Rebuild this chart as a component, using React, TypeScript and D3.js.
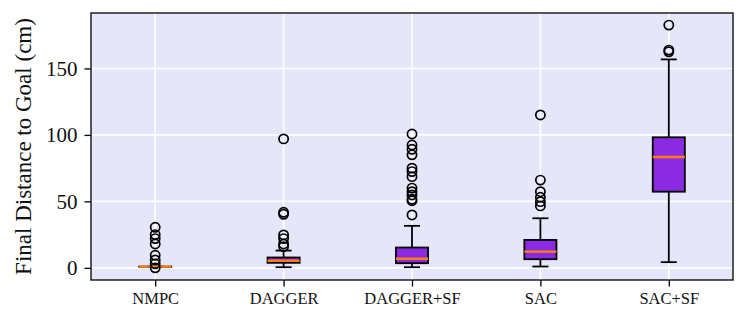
import React, { useEffect, useRef } from "react";
import * as d3 from "d3";

// Box plot stats (cm)
const categories = ["NMPC", "DAGGER", "DAGGER+SF", "SAC", "SAC+SF"];
const q1 = [0.85, 3.8, 3.5, 6.5, 57.3];
const medians = [0.9, 5.4, 6.8, 12.2, 83.4];
const q3 = [0.95, 7.8, 15.3, 21.0, 98.2];
const whiskerLow = [0.85, 0.5, 0.5, 1.0, 4.3];
const whiskerHigh = [0.95, 13.0, 31.6, 37.3, 156.8];
const outliers = [
  [30.5, 25, 22, 18, 9.5, 6, 3, 0],
  [97, 41.8, 40.3, 24.8, 22, 18, 16],
  [100.7, 92.4, 89.2, 85, 75, 72.4, 68.6, 60, 57.3, 54.8, 51.6, 50.5, 39.8],
  [115, 66, 57.3, 53.1, 49.8, 46.6],
  [182.6, 163.8, 162.5],
];
const yTicks = [0, 50, 100, 150];

const App = () => {
  const width = 747;
  const height = 324;
  const marginLeft = 91;
  const marginRight = 14;
  const marginTop = 13;
  const marginBottom = 44;
  const svgRef = useRef<SVGSVGElement | null>(null);

  useEffect(() => {
    if (!svgRef.current) return;
    const svg = d3.select(svgRef.current);
    svg.selectAll("*").remove();

    const font = "'Liberation Serif', 'DejaVu Serif', serif";
    const x = d3
      .scaleLinear()
      .domain([0.5, categories.length + 0.5])
      .range([marginLeft, width - marginRight]);
    const y = d3
      .scaleLinear()
      .domain([-9.13, 191.7])
      .range([height - marginBottom, marginTop]);

    const boxW = x(1.25) - x(1);
    const capW = boxW / 2;
    const lw = 1.8;

    // background
    svg
      .append("rect")
      .attr("x", marginLeft)
      .attr("y", marginTop)
      .attr("width", width - marginLeft - marginRight)
      .attr("height", height - marginTop - marginBottom)
      .attr("fill", "#E6E6FA");

    // grid
    svg
      .append("g")
      .selectAll("line")
      .data(yTicks)
      .join("line")
      .attr("x1", marginLeft)
      .attr("x2", width - marginRight)
      .attr("y1", (d) => y(d))
      .attr("y2", (d) => y(d))
      .attr("stroke", "white")
      .attr("stroke-width", 1.6);
    svg
      .append("g")
      .selectAll("line")
      .data(categories)
      .join("line")
      .attr("x1", (_, i) => x(i + 1))
      .attr("x2", (_, i) => x(i + 1))
      .attr("y1", marginTop)
      .attr("y2", height - marginBottom)
      .attr("stroke", "white")
      .attr("stroke-width", 1.6);

    const boxes = svg
      .append("g")
      .selectAll("g")
      .data(categories)
      .join("g");

    // whiskers
    boxes
      .append("line")
      .attr("x1", (_, i) => x(i + 1))
      .attr("x2", (_, i) => x(i + 1))
      .attr("y1", (_, i) => y(q1[i]))
      .attr("y2", (_, i) => y(whiskerLow[i]))
      .attr("stroke", "black")
      .attr("stroke-width", lw);
    boxes
      .append("line")
      .attr("x1", (_, i) => x(i + 1))
      .attr("x2", (_, i) => x(i + 1))
      .attr("y1", (_, i) => y(q3[i]))
      .attr("y2", (_, i) => y(whiskerHigh[i]))
      .attr("stroke", "black")
      .attr("stroke-width", lw);

    // caps
    [whiskerLow, whiskerHigh].forEach((arr) => {
      boxes
        .append("line")
        .attr("x1", (_, i) => x(i + 1) - capW / 2)
        .attr("x2", (_, i) => x(i + 1) + capW / 2)
        .attr("y1", (_, i) => y(arr[i]))
        .attr("y2", (_, i) => y(arr[i]))
        .attr("stroke", "black")
        .attr("stroke-width", lw);
    });

    // boxes
    boxes
      .append("rect")
      .attr("x", (_, i) => x(i + 1) - boxW / 2)
      .attr("y", (_, i) => y(q3[i]))
      .attr("width", boxW)
      .attr("height", (_, i) => y(q1[i]) - y(q3[i]))
      .attr("fill", "#8A2BE2")
      .attr("stroke", "black")
      .attr("stroke-width", lw);

    // medians
    boxes
      .append("line")
      .attr("x1", (_, i) => x(i + 1) - boxW / 2)
      .attr("x2", (_, i) => x(i + 1) + boxW / 2)
      .attr("y1", (_, i) => y(medians[i]))
      .attr("y2", (_, i) => y(medians[i]))
      .attr("stroke", "#ff7f0e")
      .attr("stroke-width", 2.4);

    // fliers
    boxes
      .selectAll("circle")
      .data((_, i) => outliers[i].map((v) => ({ v, i })))
      .join("circle")
      .attr("cx", (d) => x(d.i + 1))
      .attr("cy", (d) => y(d.v))
      .attr("r", 4.6)
      .attr("fill", "none")
      .attr("stroke", "black")
      .attr("stroke-width", 1.7);

    // frame
    svg
      .append("rect")
      .attr("x", marginLeft)
      .attr("y", marginTop)
      .attr("width", width - marginLeft - marginRight)
      .attr("height", height - marginTop - marginBottom)
      .attr("fill", "none")
      .attr("stroke", "black")
      .attr("stroke-width", 1.3);

    // y axis
    const yAxis = svg
      .append("g")
      .attr("transform", `translate(${marginLeft},0)`)
      .call(d3.axisLeft(y).tickValues(yTicks).tickSize(6.5).tickPadding(7));
    yAxis.select(".domain").remove();
    yAxis.selectAll(".tick line").attr("stroke", "black").attr("stroke-width", 1.3);
    yAxis
      .selectAll("text")
      .style("font-family", font)
      .style("font-size", "21px")
      .attr("fill", "#111");

    // x axis
    const xAxis = svg
      .append("g")
      .attr("transform", `translate(0,${height - marginBottom})`)
      .call(
        d3
          .axisBottom(x)
          .tickValues(categories.map((_, i) => i + 1))
          .tickFormat((_, i) => categories[i])
          .tickSize(6.5)
          .tickPadding(6)
      );
    xAxis.select(".domain").remove();
    xAxis.selectAll(".tick line").attr("stroke", "black").attr("stroke-width", 1.3);
    xAxis
      .selectAll("text")
      .style("font-family", font)
      .style("font-size", "16.5px")
      .attr("fill", "#111");

    // y label
    svg
      .append("text")
      .attr("transform", `translate(31,${(marginTop + height - marginBottom) / 2}) rotate(-90)`)
      .attr("text-anchor", "middle")
      .style("font-family", font)
      .style("font-size", "23px")
      .attr("fill", "#111")
      .text("Final Distance to Goal (cm)");
  }, []);

  return (
    <div>
      <svg
        ref={svgRef}
        width={width}
        height={height}
        style={{ position: "absolute", left: 0, top: 0, background: "white" }}
      ></svg>
    </div>
  );
};

export default App;
